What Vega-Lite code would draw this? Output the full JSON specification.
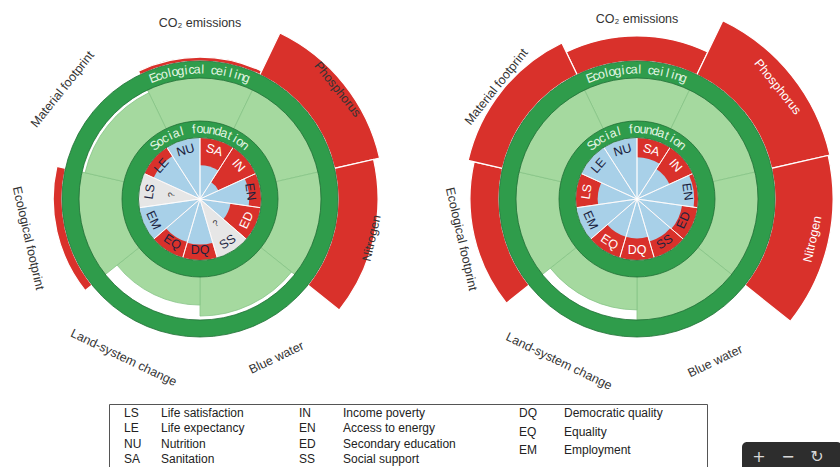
{
  "$schema": "https://vega.github.io/schema/vega-lite/v6.json",
  "padding": 0,
  "config": {"view": {"stroke": null}, "font": "Liberation Sans"},
  "datasets": {
    "ecoL": [
      {"name": "CO₂ emissions", "idx": 0, "w": 1, "v": 1.09},
      {"name": "Phosphorus", "idx": 1, "w": 1, "v": 2.05},
      {"name": "Nitrogen", "idx": 2, "w": 1, "v": 1.91},
      {"name": "Blue water", "idx": 3, "w": 1, "v": 0.91},
      {"name": "Land-system change", "idx": 4, "w": 1, "v": 0.66},
      {"name": "Ecological footprint", "idx": 5, "w": 1, "v": 1.2},
      {"name": "Material footprint", "idx": 6, "w": 1, "v": 0.93}
    ],
    "ecoR": [
      {"name": "CO₂ emissions", "idx": 0, "w": 1, "v": 1.57},
      {"name": "Phosphorus", "idx": 1, "w": 1, "v": 2.36},
      {"name": "Nitrogen", "idx": 2, "w": 1, "v": 2.32},
      {"name": "Blue water", "idx": 3, "w": 1, "v": 1.0},
      {"name": "Land-system change", "idx": 4, "w": 1, "v": 0.77},
      {"name": "Ecological footprint", "idx": 5, "w": 1, "v": 1.66},
      {"name": "Material footprint", "idx": 6, "w": 1, "v": 1.8}
    ],
    "socL": [
      {"code": "SA", "idx": 0, "w": 1, "value": 0.55, "status": "measured"},
      {"code": "IN", "idx": 1, "w": 1, "value": 0.33, "status": "measured"},
      {"code": "EN", "idx": 2, "w": 1, "value": 0.8, "status": "measured"},
      {"code": "ED", "idx": 3, "w": 1, "value": 0.5, "status": "measured"},
      {"code": "SS", "idx": 4, "w": 1, "value": null, "status": "unknown"},
      {"code": "DQ", "idx": 5, "w": 1, "value": 0.74, "status": "measured"},
      {"code": "EQ", "idx": 6, "w": 1, "value": 0.73, "status": "measured"},
      {"code": "EM", "idx": 7, "w": 1, "value": 1.0, "status": "measured"},
      {"code": "LS", "idx": 8, "w": 1, "value": null, "status": "unknown"},
      {"code": "LE", "idx": 9, "w": 1, "value": 0.83, "status": "measured"},
      {"code": "NU", "idx": 10, "w": 1, "value": 1.0, "status": "measured"}
    ],
    "socR": [
      {"code": "SA", "idx": 0, "w": 1, "value": 0.68, "status": "measured"},
      {"code": "IN", "idx": 1, "w": 1, "value": 0.58, "status": "measured"},
      {"code": "EN", "idx": 2, "w": 1, "value": 0.93, "status": "measured"},
      {"code": "ED", "idx": 3, "w": 1, "value": 0.74, "status": "measured"},
      {"code": "SS", "idx": 4, "w": 1, "value": 0.72, "status": "measured"},
      {"code": "DQ", "idx": 5, "w": 1, "value": 0.64, "status": "measured"},
      {"code": "EQ", "idx": 6, "w": 1, "value": 0.64, "status": "measured"},
      {"code": "EM", "idx": 7, "w": 1, "value": 1.0, "status": "measured"},
      {"code": "LS", "idx": 8, "w": 1, "value": 0.64, "status": "measured"},
      {"code": "LE", "idx": 9, "w": 1, "value": 1.0, "status": "measured"},
      {"code": "NU", "idx": 10, "w": 1, "value": 1.0, "status": "measured"}
    ],
    "ceil": [
      {"i": 0, "ch": "E"}, {"i": 1, "ch": "c"}, {"i": 2, "ch": "o"}, {"i": 3, "ch": "l"}, {"i": 4, "ch": "o"}, {"i": 5, "ch": "g"},
      {"i": 6, "ch": "i"}, {"i": 7, "ch": "c"}, {"i": 8, "ch": "a"}, {"i": 9, "ch": "l"}, {"i": 10, "ch": " "}, {"i": 11, "ch": "c"},
      {"i": 12, "ch": "e"}, {"i": 13, "ch": "i"}, {"i": 14, "ch": "l"}, {"i": 15, "ch": "i"}, {"i": 16, "ch": "n"}, {"i": 17, "ch": "g"}
    ],
    "found": [
      {"i": 0, "ch": "S"}, {"i": 1, "ch": "o"}, {"i": 2, "ch": "c"}, {"i": 3, "ch": "i"}, {"i": 4, "ch": "a"}, {"i": 5, "ch": "l"},
      {"i": 6, "ch": " "}, {"i": 7, "ch": "f"}, {"i": 8, "ch": "o"}, {"i": 9, "ch": "u"}, {"i": 10, "ch": "n"}, {"i": 11, "ch": "d"},
      {"i": 12, "ch": "a"}, {"i": 13, "ch": "t"}, {"i": 14, "ch": "i"}, {"i": 15, "ch": "o"}, {"i": 16, "ch": "n"}
    ],
    "legA": [
      {"c": 1, "row": 1, "t": "LS"}, {"c": 2, "row": 1, "t": "Life satisfaction"},
      {"c": 1, "row": 2, "t": "LE"}, {"c": 2, "row": 2, "t": "Life expectancy"},
      {"c": 1, "row": 3, "t": "NU"}, {"c": 2, "row": 3, "t": "Nutrition"},
      {"c": 1, "row": 4, "t": "SA"}, {"c": 2, "row": 4, "t": "Sanitation"},
      {"c": 3, "row": 1, "t": "IN"}, {"c": 4, "row": 1, "t": "Income poverty"},
      {"c": 3, "row": 2, "t": "EN"}, {"c": 4, "row": 2, "t": "Access to energy"},
      {"c": 3, "row": 3, "t": "ED"}, {"c": 4, "row": 3, "t": "Secondary education"},
      {"c": 3, "row": 4, "t": "SS"}, {"c": 4, "row": 4, "t": "Social support"}
    ],
    "legB": [
      {"c": 5, "row": 1, "t": "DQ"}, {"c": 6, "row": 1, "t": "Democratic quality"},
      {"c": 5, "row": 2, "t": "EQ"}, {"c": 6, "row": 2, "t": "Equality"},
      {"c": 5, "row": 3, "t": "EM"}, {"c": 6, "row": 3, "t": "Employment"}
    ]
  },
  "vconcat": [
    {
      "bounds": "flush",
      "hconcat": [
        {
          "width": 400, "height": 398,
          "layer": [
            {"data": {"name": "ecoL"}, "transform": [{"stack": "w", "groupby": [], "sort": [{"field": "idx", "order": "ascending"}], "as": ["t0", "t1"]}],
             "mark": {"type": "arc", "fill": "#d9312b", "stroke": "#ffffff", "strokeWidth": 1.2},
             "encoding": {"theta": {"field": "t0", "type": "quantitative", "scale": {"domain": [0, 7], "range": [-0.4488, 5.8344]}}, "theta2": {"field": "t1"},
               "radius": {"field": "v", "type": "quantitative", "scale": {"type": "linear", "domain": [1, 3], "range": [138, 226], "clamp": true, "zero": false}}}},
            {"data": {"values": [{}]}, "mark": {"type": "arc", "theta": 0, "theta2": 6.2832, "outerRadius": 121, "fill": "#ffffff"}, "encoding": {}},
            {"data": {"name": "ecoL"}, "transform": [{"stack": "w", "groupby": [], "sort": [{"field": "idx", "order": "ascending"}], "as": ["t0", "t1"]}],
             "mark": {"type": "arc", "fill": "#a5d99f", "stroke": "#86c487", "strokeWidth": 0.8},
             "encoding": {"theta": {"field": "t0", "type": "quantitative", "scale": {"domain": [0, 7], "range": [-0.4488, 5.8344]}}, "theta2": {"field": "t1"},
               "radius": {"field": "v", "type": "quantitative", "scale": {"type": "linear", "domain": [0, 1], "range": [77, 121], "clamp": true, "zero": false}}}},
            {"data": {"values": [{}]}, "mark": {"type": "arc", "theta": 0, "theta2": 6.2832, "outerRadius": 138, "innerRadius": 121, "fill": "#2f9c4b", "stroke": "#1f6e35", "strokeWidth": 0.8}, "encoding": {}},
            {"data": {"name": "socL"}, "mark": {"type": "arc", "outerRadius": 61.5},
             "encoding": {"theta": {"field": "w", "type": "quantitative", "stack": true}, "order": {"field": "idx"},
               "color": {"field": "status", "type": "nominal", "scale": {"domain": ["measured", "unknown"], "range": ["#d9312b", "#e6e6e6"]}, "legend": null}}},
            {"data": {"name": "socL"}, "transform": [{"stack": "w", "groupby": [], "sort": [{"field": "idx", "order": "ascending"}], "as": ["t0", "t1"]}],
             "mark": {"type": "arc", "fill": "#a8d0e8"},
             "encoding": {"theta": {"field": "t0", "type": "quantitative", "scale": {"domain": [0, 11], "range": [0, 6.2832]}}, "theta2": {"field": "t1"},
               "radius": {"field": "value", "type": "quantitative", "scale": {"type": "linear", "domain": [0, 1], "range": [0, 61.5], "clamp": true}}}},
            {"data": {"name": "socL"}, "mark": {"type": "arc", "outerRadius": 61.5, "fill": "transparent", "stroke": "#ffffff", "strokeWidth": 0.8},
             "encoding": {"theta": {"field": "w", "type": "quantitative", "stack": true}, "order": {"field": "idx"}}},
            {"data": {"values": [{}]}, "mark": {"type": "arc", "theta": 0, "theta2": 6.2832, "outerRadius": 78, "innerRadius": 61.5, "fill": "#2f9c4b", "stroke": "#1f6e35", "strokeWidth": 0.8}, "encoding": {}},
            {"data": {"name": "socL"}, "mark": {"type": "text", "radius": 51, "fontSize": 12.5, "align": "center", "baseline": "middle"},
             "encoding": {"theta": {"field": "w", "type": "quantitative", "stack": true}, "order": {"field": "idx"}, "text": {"field": "code"},
               "angle": {"field": "idx", "type": "quantitative", "scale": {"domain": [0, 1, 2, 3, 4, 5, 6, 7, 8, 9, 10], "range": [16.36, 49.09, 81.82, -65.45, -32.73, 0, 32.73, 65.45, -81.82, -49.09, -16.36]}},
               "color": {"condition": {"test": "datum.value != null && datum.value < 0.7", "value": "#ffffff"}, "value": "#1b2340"}}},
            {"data": {"name": "socL"}, "mark": {"type": "text", "radius": 29, "fontSize": 9, "color": "#333333", "align": "center", "baseline": "middle"},
             "encoding": {"theta": {"field": "w", "type": "quantitative", "stack": true}, "order": {"field": "idx"},
               "text": {"condition": {"test": "datum.value == null", "value": "?"}, "value": ""},
               "angle": {"field": "idx", "type": "quantitative", "scale": {"domain": [0, 1, 2, 3, 4, 5, 6, 7, 8, 9, 10], "range": [16.36, 49.09, 81.82, -65.45, -32.73, 0, 32.73, 65.45, -81.82, -49.09, -16.36]}}}},
            {"data": {"name": "ecoL"}, "mark": {"type": "text", "radius": 176, "fontSize": 12.5, "align": "center", "baseline": "middle"},
             "encoding": {"theta": {"field": "w", "type": "quantitative", "stack": true, "scale": {"range": [-0.4488, 5.8344]}}, "order": {"field": "idx"}, "text": {"field": "name"},
               "angle": {"field": "idx", "type": "quantitative", "scale": {"domain": [0, 1, 2, 3, 4, 5, 6], "range": [0, 51.43, -77.14, -25.71, 25.71, 77.14, -51.43]}},
               "color": {"condition": {"test": "datum.v > 2.2", "value": "#ffffff"}, "value": "#333333"}}},
            {"data": {"name": "ceil"}, "mark": {"type": "text", "radius": 129.5, "fontSize": 12.5, "color": "#e4f6e4", "align": "center", "baseline": "middle"},
             "encoding": {"theta": {"field": "i", "type": "quantitative", "scale": {"domain": [0, 17], "range": [-0.367, 0.367]}},
               "angle": {"field": "i", "type": "quantitative", "scale": {"domain": [0, 17], "range": [-21, 21]}}, "text": {"field": "ch"}}},
            {"data": {"name": "found"}, "mark": {"type": "text", "radius": 70, "fontSize": 12.5, "color": "#e4f6e4", "align": "center", "baseline": "middle"},
             "encoding": {"theta": {"field": "i", "type": "quantitative", "scale": {"domain": [0, 16], "range": [-0.70, 0.70]}},
               "angle": {"field": "i", "type": "quantitative", "scale": {"domain": [0, 16], "range": [-40, 40]}}, "text": {"field": "ch"}}}
          ],
          "resolve": {"scale": {"theta": "independent", "radius": "independent", "angle": "independent", "color": "independent"}}
        },
        {
          "width": 400, "height": 398,
          "layer": [
            {"data": {"name": "ecoR"}, "transform": [{"stack": "w", "groupby": [], "sort": [{"field": "idx", "order": "ascending"}], "as": ["t0", "t1"]}],
             "mark": {"type": "arc", "fill": "#d9312b", "stroke": "#ffffff", "strokeWidth": 1.2},
             "encoding": {"theta": {"field": "t0", "type": "quantitative", "scale": {"domain": [0, 7], "range": [-0.4488, 5.8344]}}, "theta2": {"field": "t1"},
               "radius": {"field": "v", "type": "quantitative", "scale": {"type": "linear", "domain": [1, 3], "range": [138, 226], "clamp": true, "zero": false}}}},
            {"data": {"values": [{}]}, "mark": {"type": "arc", "theta": 0, "theta2": 6.2832, "outerRadius": 121, "fill": "#ffffff"}, "encoding": {}},
            {"data": {"name": "ecoR"}, "transform": [{"stack": "w", "groupby": [], "sort": [{"field": "idx", "order": "ascending"}], "as": ["t0", "t1"]}],
             "mark": {"type": "arc", "fill": "#a5d99f", "stroke": "#86c487", "strokeWidth": 0.8},
             "encoding": {"theta": {"field": "t0", "type": "quantitative", "scale": {"domain": [0, 7], "range": [-0.4488, 5.8344]}}, "theta2": {"field": "t1"},
               "radius": {"field": "v", "type": "quantitative", "scale": {"type": "linear", "domain": [0, 1], "range": [77, 121], "clamp": true, "zero": false}}}},
            {"data": {"values": [{}]}, "mark": {"type": "arc", "theta": 0, "theta2": 6.2832, "outerRadius": 138, "innerRadius": 121, "fill": "#2f9c4b", "stroke": "#1f6e35", "strokeWidth": 0.8}, "encoding": {}},
            {"data": {"name": "socR"}, "mark": {"type": "arc", "outerRadius": 61.5},
             "encoding": {"theta": {"field": "w", "type": "quantitative", "stack": true}, "order": {"field": "idx"},
               "color": {"field": "status", "type": "nominal", "scale": {"domain": ["measured", "unknown"], "range": ["#d9312b", "#e6e6e6"]}, "legend": null}}},
            {"data": {"name": "socR"}, "transform": [{"stack": "w", "groupby": [], "sort": [{"field": "idx", "order": "ascending"}], "as": ["t0", "t1"]}],
             "mark": {"type": "arc", "fill": "#a8d0e8"},
             "encoding": {"theta": {"field": "t0", "type": "quantitative", "scale": {"domain": [0, 11], "range": [0, 6.2832]}}, "theta2": {"field": "t1"},
               "radius": {"field": "value", "type": "quantitative", "scale": {"type": "linear", "domain": [0, 1], "range": [0, 61.5], "clamp": true}}}},
            {"data": {"name": "socR"}, "mark": {"type": "arc", "outerRadius": 61.5, "fill": "transparent", "stroke": "#ffffff", "strokeWidth": 0.8},
             "encoding": {"theta": {"field": "w", "type": "quantitative", "stack": true}, "order": {"field": "idx"}}},
            {"data": {"values": [{}]}, "mark": {"type": "arc", "theta": 0, "theta2": 6.2832, "outerRadius": 78, "innerRadius": 61.5, "fill": "#2f9c4b", "stroke": "#1f6e35", "strokeWidth": 0.8}, "encoding": {}},
            {"data": {"name": "socR"}, "mark": {"type": "text", "radius": 51, "fontSize": 12.5, "align": "center", "baseline": "middle"},
             "encoding": {"theta": {"field": "w", "type": "quantitative", "stack": true}, "order": {"field": "idx"}, "text": {"field": "code"},
               "angle": {"field": "idx", "type": "quantitative", "scale": {"domain": [0, 1, 2, 3, 4, 5, 6, 7, 8, 9, 10], "range": [16.36, 49.09, 81.82, -65.45, -32.73, 0, 32.73, 65.45, -81.82, -49.09, -16.36]}},
               "color": {"condition": {"test": "datum.value != null && datum.value < 0.7", "value": "#ffffff"}, "value": "#1b2340"}}},
            {"data": {"name": "ecoR"}, "mark": {"type": "text", "radius": 180, "fontSize": 12.5, "align": "center", "baseline": "middle"},
             "encoding": {"theta": {"field": "w", "type": "quantitative", "stack": true, "scale": {"range": [-0.4488, 5.8344]}}, "order": {"field": "idx"}, "text": {"field": "name"},
               "angle": {"field": "idx", "type": "quantitative", "scale": {"domain": [0, 1, 2, 3, 4, 5, 6], "range": [0, 51.43, -77.14, -25.71, 25.71, 77.14, -51.43]}},
               "color": {"condition": {"test": "datum.v > 2.2", "value": "#ffffff"}, "value": "#333333"}}},
            {"data": {"name": "ceil"}, "mark": {"type": "text", "radius": 129.5, "fontSize": 12.5, "color": "#e4f6e4", "align": "center", "baseline": "middle"},
             "encoding": {"theta": {"field": "i", "type": "quantitative", "scale": {"domain": [0, 17], "range": [-0.367, 0.367]}},
               "angle": {"field": "i", "type": "quantitative", "scale": {"domain": [0, 17], "range": [-21, 21]}}, "text": {"field": "ch"}}},
            {"data": {"name": "found"}, "mark": {"type": "text", "radius": 70, "fontSize": 12.5, "color": "#e4f6e4", "align": "center", "baseline": "middle"},
             "encoding": {"theta": {"field": "i", "type": "quantitative", "scale": {"domain": [0, 16], "range": [-0.70, 0.70]}},
               "angle": {"field": "i", "type": "quantitative", "scale": {"domain": [0, 16], "range": [-40, 40]}}, "text": {"field": "ch"}}}
          ],
          "resolve": {"scale": {"theta": "independent", "radius": "independent", "angle": "independent", "color": "independent"}}
        }
      ],
      "spacing": 37
    },
    {
      "hconcat": [
        {"width": 108, "height": 10, "data": {"values": [{}]}, "mark": {"type": "point", "opacity": 0}, "encoding": {}},
        {
          "width": 598, "height": 70,
          "view": {"stroke": "#555555", "strokeWidth": 1},
          "layer": [
            {"data": {"name": "legA"}, "mark": {"type": "text", "align": "left", "baseline": "middle", "fontSize": 12, "color": "#222222"},
             "encoding": {"x": {"field": "c", "type": "quantitative", "scale": {"domain": [1, 2, 3, 4, 5, 6], "range": [15, 52, 190, 234, 410, 455]}, "axis": null},
               "y": {"field": "row", "type": "quantitative", "scale": {"domain": [1, 4], "range": [9, 55]}, "axis": null},
               "text": {"field": "t"}}},
            {"data": {"name": "legB"}, "mark": {"type": "text", "align": "left", "baseline": "middle", "fontSize": 12, "color": "#222222"},
             "encoding": {"x": {"field": "c", "type": "quantitative", "scale": {"domain": [1, 2, 3, 4, 5, 6], "range": [15, 52, 190, 234, 410, 455]}, "axis": null},
               "y": {"field": "row", "type": "quantitative", "scale": {"domain": [1, 3], "range": [9, 46]}, "axis": null},
               "text": {"field": "t"}}}
          ],
          "resolve": {"scale": {"y": "independent"}}
        },
        {"width": 34, "height": 10, "data": {"values": [{}]}, "mark": {"type": "point", "opacity": 0}, "encoding": {}},
        {
          "vconcat": [
            {"width": 100, "height": 38, "data": {"values": [{}]}, "mark": {"type": "point", "opacity": 0}, "encoding": {}},
            {
              "width": 100, "height": 30,
              "view": {"fill": "#2d2d2d", "stroke": null, "cornerRadius": 5},
              "data": {"values": [{"k": 1, "t": "+"}, {"k": 2, "t": "−"}, {"k": 3, "t": "↻"}]},
              "mark": {"type": "text", "fontSize": 16, "color": "#d8d8d8", "baseline": "middle", "font": "DejaVu Sans"},
              "encoding": {"x": {"field": "k", "type": "quantitative", "scale": {"domain": [1, 3], "range": [17, 75]}, "axis": null}, "text": {"field": "t"}}
            }
          ],
          "spacing": 0
        }
      ],
      "spacing": 0
    }
  ],
  "spacing": 5
}
